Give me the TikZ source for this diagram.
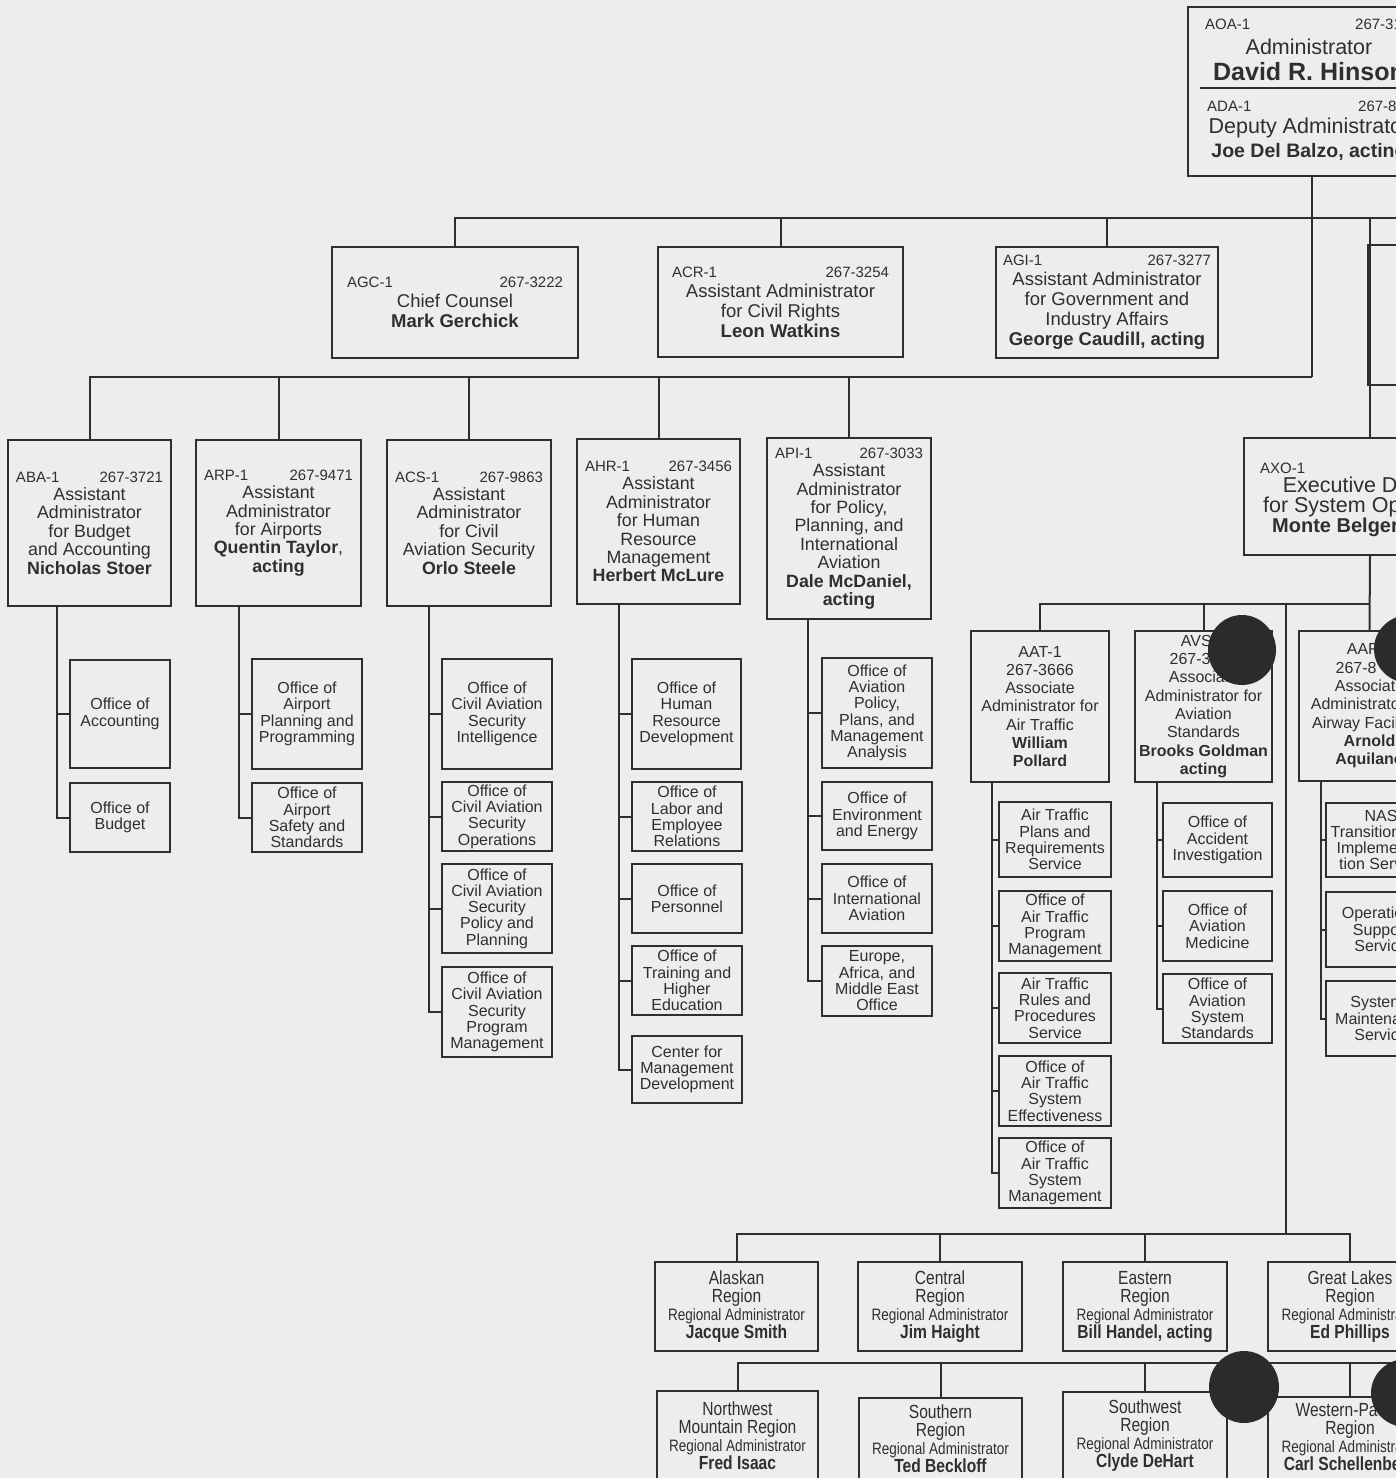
\documentclass[tikz,border=0pt]{standalone}
\usepackage{fontspec}
\setmainfont{Liberation Sans}
\newfontfamily\narrowf[FakeStretch=0.82]{Liberation Sans}
\usetikzlibrary{calc}
\definecolor{ink}{HTML}{2F2F2F}
\definecolor{paper}{HTML}{EDEDED}
\definecolor{hole}{HTML}{2B2B2B}
\newcommand\fA{\fontsize{17.8}{18.4}\selectfont}
\newcommand\fU{\fontsize{18.5}{20}\selectfont}
\newcommand\fB{\fontsize{16}{18.3}\selectfont}
\newcommand\fC{\fontsize{15}{18.4}\selectfont}
\newcommand\fS{\fontsize{16}{16.3}\selectfont}
\newcommand\fT{\fontsize{21.5}{20}\selectfont}
\newcommand\fR{\narrowf\fontsize{19}{18}\selectfont}
\newcommand\fRA{\fontsize{16.5}{18}\selectfont}
\newcommand\Bx[7]{%
  \pgfmathsetmacro\cxx{(#2+#4)/2}%
  \pgfmathsetmacro\cyy{(#3+#5)/2}%
  \pgfmathsetmacro\ww{#4-#2}%
  \pgfmathsetmacro\hh{#5-#3}%
  \node[box,font=#6,minimum width=\ww pt,minimum height=\hh pt] (#1) at (\cxx,\cyy) {#7};}
\newcommand\code[3][16]{\makebox[\dimexpr\ww pt-#1pt\relax]{\fC #2\hfill #3}}
\tikzset{
  box/.style={draw=ink, line width=2pt, inner sep=0pt, align=center, text=ink},
  ln/.style={draw=ink, line width=2pt},
  lbl/.style={inner sep=0pt, text=ink, align=center},
}
\begin{document}
\begin{tikzpicture}[x=1pt,y=-1pt]
\fill[paper] (0,0) rectangle (1396,1478);
\useasboundingbox (0,0) rectangle (1396,1478);
\clip (0,0) rectangle (1396,1478);

% ---------- top box
\Bx{top}{1188}{7}{1432}{176}{\fT}{}
\draw[ln] (1200,88) -- (1420,88);
\node[lbl,anchor=west,font=\fC] (aoac) at (1205,24) {AOA-1};
\node[lbl,anchor=west,font=\fC] (aoap) at (1355,24) {267-31};
\node[lbl,font=\fT] (aoat) at (1309,47) {Administrator};
\node[lbl,font=\fontsize{25}{25}\selectfont\bfseries] (aoan) at (1309,72) {David R. Hinson};
\node[lbl,anchor=west,font=\fC] (adac) at (1207,106) {ADA-1};
\node[lbl,anchor=west,font=\fC] (adap) at (1358,106) {267-81};
\node[lbl,font=\fT] (adat) at (1309,128) {Deputy Administrator};
\node[lbl,font=\fontsize{19.5}{20}\selectfont\bfseries] (adan) at (1309,152) {Joe Del Balzo, acting};

% ---------- upper row
\Bx{agc}{332}{247}{578}{358}{\fU}{\code[30]{AGC-1}{267-3222}\\Chief Counsel\\\textbf{Mark Gerchick}}
\Bx{acr}{658}{247}{903}{357}{\fU}{\code[28]{ACR-1}{267-3254}\\Assistant Administrator\\for Civil Rights\\\textbf{Leon Watkins}}
\Bx{agi}{996}{247}{1218}{358}{\fU}{\code[14]{AGI-1}{267-3277}\\Assistant Administrator\\for Government and\\Industry Affairs\\\textbf{George Caudill, acting}}
\Bx{rx}{1368}{245}{1520}{385}{\fU}{}

% ---------- assistant administrators
\Bx{aba}{8}{440}{171}{606}{\fA}{\code{ABA-1}{267-3721}\\Assistant\\Administrator\\for Budget\\and Accounting\\\textbf{Nicholas Stoer}}
\Bx{arp}{196}{440}{361}{606}{\fA}{\code{ARP-1}{267-9471}\\Assistant\\Administrator\\for Airports\\\textbf{Quentin Taylor},\\\textbf{acting}}
\Bx{acs}{387}{440}{551}{606}{\fA}{\code{ACS-1}{267-9863}\\Assistant\\Administrator\\for Civil\\Aviation Security\\\textbf{Orlo Steele}}
\Bx{ahr}{577}{439}{740}{604}{\fA}{\code{AHR-1}{267-3456}\\Assistant\\Administrator\\for Human\\Resource\\Management\\\textbf{Herbert McLure}}
\Bx{api}{767}{438}{931}{619}{\fA}{\code{API-1}{267-3033}\\Assistant\\Administrator\\for Policy,\\Planning, and\\International\\Aviation\\\textbf{Dale McDaniel,}\\\textbf{acting}}

% ---------- executive director
\Bx{axo}{1244}{438}{1496}{555}{\fT}{}
\node[lbl,anchor=west,font=\fC] (axoc) at (1260,468) {AXO-1};
\node[lbl,font=\fT] (axot) at (1370,507) {Executive Director\\for System Operations\\{\fontsize{20}{20}\selectfont\bfseries Monte Belger, acting}};

% ---------- associate administrators
\Bx{aat}{971}{631}{1109}{782}{\fB}{AAT-1\\267-3666\\Associate\\Administrator for\\Air Traffic\\\textbf{William}\\\textbf{Pollard}}
\Bx{avs}{1135}{631}{1272}{782}{\fB}{AVS-1\\267-3\phantom{000}\\Associate\\Administrator for\\Aviation\\Standards\\\textbf{Brooks Goldman}\\\textbf{acting}}
\Bx{aaf}{1299}{631}{1440}{781}{\fB}{AAF-1\\267-8\phantom{000}\\Associate\\Administrator for\\Airway Facilities\\\textbf{Arnold}\\\textbf{Aquilano}}

% ---------- offices
\Bx{acc}{70}{660}{170}{768}{\fS}{Office of\\Accounting}
\Bx{bud}{70}{783}{170}{852}{\fS}{Office of\\Budget}
\Bx{app}{252}{659}{362}{769}{\fS}{Office of\\Airport\\Planning and\\Programming}
\Bx{ass}{252}{783}{362}{852}{\fS}{Office of\\Airport\\Safety and\\Standards}
\Bx{csi}{442}{659}{552}{769}{\fS}{Office of\\Civil Aviation\\Security\\Intelligence}
\Bx{cso}{442}{782}{552}{851}{\fS}{Office of\\Civil Aviation\\Security\\Operations}
\Bx{csp}{442}{864}{552}{953}{\fS}{Office of\\Civil Aviation\\Security\\Policy and\\Planning}
\Bx{csm}{442}{967}{552}{1057}{\fS}{Office of\\Civil Aviation\\Security\\Program\\Management}
\Bx{hrd}{632}{659}{741}{769}{\fS}{Office of\\Human\\Resource\\Development}
\Bx{ler}{632}{782}{742}{851}{\fS}{Office of\\Labor and\\Employee\\Relations}
\Bx{per}{632}{864}{742}{933}{\fS}{Office of\\Personnel}
\Bx{the}{632}{946}{742}{1015}{\fS}{Office of\\Training and\\Higher\\Education}
\Bx{cmd}{632}{1036}{742}{1103}{\fS}{Center for\\Management\\Development}
\Bx{app2}{822}{658}{932}{768}{\fS}{Office of\\Aviation\\Policy,\\Plans, and\\Management\\Analysis}
\Bx{oee}{822}{782}{932}{850}{\fS}{Office of\\Environment\\and Energy}
\Bx{oia}{822}{864}{932}{933}{\fS}{Office of\\International\\Aviation}
\Bx{eam}{822}{946}{932}{1016}{\fS}{Europe,\\Africa, and\\Middle East\\Office}
\Bx{atp}{999}{802}{1111}{877}{\fS}{Air Traffic\\Plans and\\Requirements\\Service}
\Bx{apm}{999}{891}{1111}{961}{\fS}{Office of\\Air Traffic\\Program\\Management}
\Bx{arr}{999}{973}{1111}{1043}{\fS}{Air Traffic\\Rules and\\Procedures\\Service}
\Bx{ase}{999}{1056}{1111}{1126}{\fS}{Office of\\Air Traffic\\System\\Effectiveness}
\Bx{asm}{999}{1138}{1111}{1208}{\fS}{Office of\\Air Traffic\\System\\Management}
\Bx{oai}{1163}{803}{1272}{877}{\fS}{Office of\\Accident\\Investigation}
\Bx{oam}{1163}{891}{1272}{961}{\fS}{Office of\\Aviation\\Medicine}
\Bx{oas}{1163}{974}{1272}{1043}{\fS}{Office of\\Aviation\\System\\Standards}
\Bx{nas}{1326}{803}{1436}{877}{\fS}{NAS\\Transition and\\Implementa-\\tion Service}
\Bx{oss}{1326}{892}{1436}{967}{\fS}{Operations\\Support\\Service}
\Bx{sms}{1326}{981}{1436}{1056}{\fS}{Systems\\Maintenance\\Service}

% ---------- regions
\Bx{alaska}{655}{1262}{818}{1351}{\fR}{Alaskan\\Region\\{\fRA Regional Administrator}\\{\bfseries Jacque Smith}}
\Bx{central}{858}{1262}{1022}{1351}{\fR}{Central\\Region\\{\fRA Regional Administrator}\\{\bfseries Jim Haight}}
\Bx{eastern}{1063}{1262}{1227}{1351}{\fR}{Eastern\\Region\\{\fRA Regional Administrator}\\{\bfseries Bill Handel, acting}}
\Bx{glakes}{1268}{1262}{1432}{1351}{\fR}{Great Lakes\\Region\\{\fRA Regional Administrator}\\{\bfseries Ed Phillips}}
\Bx{nwm}{657}{1391}{818}{1480}{\fR}{Northwest\\Mountain Region\\{\fRA Regional Administrator}\\{\bfseries Fred Isaac}}
\Bx{south}{859}{1398}{1022}{1480}{\fR}{Southern\\Region\\{\fRA Regional Administrator}\\{\bfseries Ted Beckloff}}
\Bx{swest}{1063}{1392}{1227}{1480}{\fR}{Southwest\\Region\\{\fRA Regional Administrator}\\{\bfseries Clyde DeHart}}
\Bx{wpac}{1268}{1397}{1432}{1480}{\fR}{Western-Pacific\\Region\\{\fRA Regional Administrator}\\{\bfseries Carl Schellenberg}}

% ---------- connectors
\coordinate (j0) at (1312,218);
\coordinate (e0) at (1400,218);
\coordinate (j1) at (1312,377);
\draw[ln] (top.south -| j0) -- (j0) -- (e0);
\draw[ln] (agc.north) |- (j0);
\draw[ln] (acr.north) |- (j0);
\draw[ln] (agi.north) |- (j0);
\draw[ln] (j0) -- (j1);
\draw[ln] (aba.north) |- (j1);
\draw[ln] (arp.north) |- (j1);
\draw[ln] (acs.north) |- (j1);
\draw[ln] (ahr.north) |- (j1);
\draw[ln] (api.north) |- (j1);
\draw[ln] (axo.north) -- (axo.north |- j0);

\coordinate (s1) at (57,0);
\coordinate (s2) at (239,0);
\coordinate (s3) at (429,0);
\coordinate (s4) at (619,0);
\coordinate (s5) at (808,0);
\coordinate (s6) at (992,0);
\coordinate (s7) at (1157,0);
\coordinate (s8) at (1321,0);
\foreach \p/\c in {aba/acc,aba/bud}{\draw[ln] (\p.south -| s1) |- (\c.west);}
\foreach \p/\c in {arp/app,arp/ass}{\draw[ln] (\p.south -| s2) |- (\c.west);}
\foreach \p/\c in {acs/csi,acs/cso,acs/csp,acs/csm}{\draw[ln] (\p.south -| s3) |- (\c.west);}
\foreach \p/\c in {ahr/hrd,ahr/ler,ahr/per,ahr/the,ahr/cmd}{\draw[ln] (\p.south -| s4) |- (\c.west);}
\foreach \p/\c in {api/app2,api/oee,api/oia,api/eam}{\draw[ln] (\p.south -| s5) |- (\c.west);}
\foreach \p/\c in {aat/atp,aat/apm,aat/arr,aat/ase,aat/asm}{\draw[ln] (\p.south -| s6) |- (\c.west);}
\foreach \p/\c in {avs/oai,avs/oam,avs/oas}{\draw[ln] (\p.south -| s7) |- (\c.west);}
\foreach \p/\c in {aaf/nas,aaf/oss,aaf/sms}{\draw[ln] (\p.south -| s8) |- (\c.west);}

\coordinate (j2) at (1370,604);
\coordinate (j3) at (1286,604);
\coordinate (j4) at (1286,1234);
\coordinate (e5) at (1400,1363);
\draw[ln] (axo.south) -- (aaf.north);
\draw[ln] (aat.north) |- (j2);
\draw[ln] (avs.north) |- (j2);
\draw[ln] (j3) -- (j4);
\draw[ln] (alaska.north) |- (j4);
\draw[ln] (central.north) |- (j4);
\draw[ln] (eastern.north) |- (j4);
\draw[ln] (j4) -| (glakes.north);
\draw[ln] (nwm.north) |- (e5);
\draw[ln] (south.north) |- (e5);
\draw[ln] (swest.north) |- (e5);
\draw[ln] (wpac.north) |- (e5);

% ---------- punched holes
\fill[hole] (1242,650) ellipse [x radius=34pt, y radius=35pt];
\fill[hole] (1409,649) ellipse [x radius=35pt, y radius=34pt];
\fill[hole] (1244,1387) ellipse [x radius=35pt, y radius=36pt];
\fill[hole] (1406,1393) ellipse [x radius=35pt, y radius=34pt];
\end{tikzpicture}
\end{document}
